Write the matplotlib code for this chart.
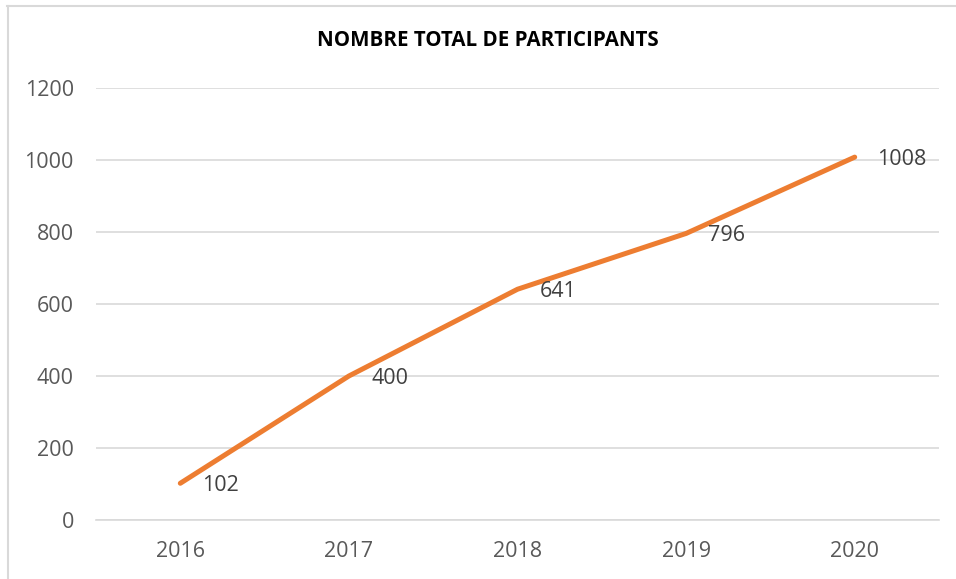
import matplotlib
matplotlib.use("Agg")
import matplotlib.pyplot as plt
from matplotlib.lines import Line2D

years = ["2016", "2017", "2018", "2019", "2020"]
participants = [102, 400, 641, 796, 1008]
yticks = [0, 200, 400, 600, 800, 1000, 1200]

plt.rcParams['font.family'] = ['Open Sans', 'DejaVu Sans']

W, H = 956, 579
fig = plt.figure(figsize=(W / 100, H / 100), dpi=100)
ax = fig.add_axes([96 / W, 1 - 520 / H, (939 - 96) / W, (520 - 88) / H])

x = list(range(len(years)))
ax.plot(x, participants, color="#ED7D31", lw=3.6, solid_capstyle="round", solid_joinstyle="round", zorder=3)
for xi, v in zip(x, participants):
    ax.annotate(str(v), (xi, v), xytext=(16, -1.5), textcoords="offset points",
                ha="left", va="center", fontsize=15.5, color="#404040")

ax.set_xlim(-0.5, len(years) - 0.5)
ax.set_ylim(0, 1200)
ax.set_yticks(yticks)
ax.set_xticks(x)
ax.set_xticklabels(years)
ax.grid(axis="y", color="#D9D9D9", lw=1.2)
ax.set_axisbelow(True)
for s in ["top", "right", "left"]:
    ax.spines[s].set_visible(False)
ax.spines["bottom"].set_color("#D9D9D9")
ax.spines["bottom"].set_linewidth(1.2)
ax.tick_params(axis="both", length=0, labelsize=15.5, labelcolor="#595959")
ax.tick_params(axis="y", pad=16)
ax.tick_params(axis="x", pad=15)

fig.text(488 / W, 1 - 41 / H, "NOMBRE TOTAL DE PARTICIPANTS", ha="center", va="center",
         fontsize=14.8, fontweight="bold", color="black")

fig.add_artist(Line2D([7 / W, 1], [1 - 5.5 / H, 1 - 5.5 / H], transform=fig.transFigure,
                      color="#D9D9D9", lw=1.5))
fig.add_artist(Line2D([7.5 / W, 7.5 / W], [0, 1 - 5.5 / H], transform=fig.transFigure,
                      color="#D9D9D9", lw=1.5))

fig.savefig("out.png", dpi=100)
